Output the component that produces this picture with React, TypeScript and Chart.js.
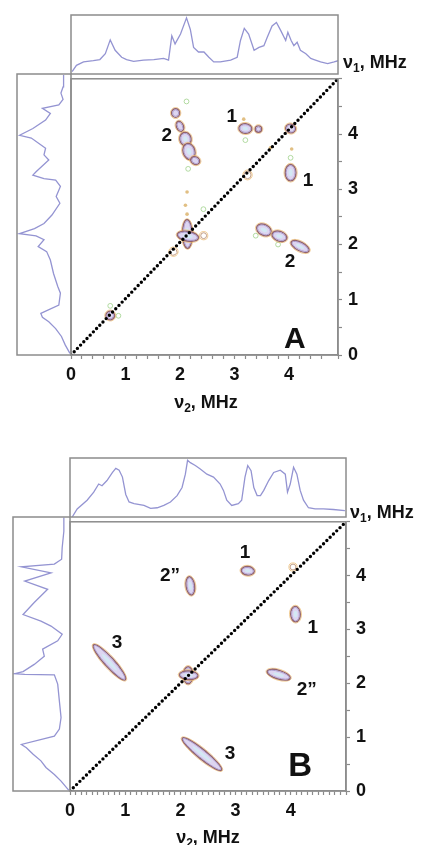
import React, { useEffect, useRef } from 'react';
import { Chart, registerables } from 'chart.js';

Chart.register(...registerables);

const FONT = '"Liberation Sans", Arial, Helvetica, sans-serif';
const TRACE = '#9494d2';
const FRAME = '#8c8c8c';

// ---------------- axis ticks / ranges ----------------
const xTickLabels = [0, 1, 2, 3, 4];
const yTickLabels = [0, 1, 2, 3, 4];
const xMaxA = 4.9;
const yMaxA = 5.0;
const xMaxB = 5.0;
const yMaxB = 5.0;
const xMinorA = 0.2;
const xMinorB = 0.1;
const yMinor = 0.5;

// ---------------- panel A projections ----------------
const topNuA = [0.02, 0.1, 0.23, 0.41, 0.53, 0.63, 0.72, 0.81, 0.93, 1.02, 1.15, 1.33, 1.52, 1.7, 1.79, 1.85, 1.91, 2.01, 2.12, 2.19, 2.25, 2.34, 2.44, 2.53, 2.62, 2.74, 2.93, 3.05, 3.11, 3.18, 3.26, 3.36, 3.45, 3.54, 3.6, 3.69, 3.77, 3.85, 3.94, 3.98, 4.04, 4.09, 4.15, 4.21, 4.31, 4.4, 4.46, 4.58, 4.71, 4.83, 4.9];
const topIntA = [0.04, 0.15, 0.21, 0.23, 0.25, 0.35, 0.59, 0.41, 0.29, 0.25, 0.22, 0.24, 0.25, 0.27, 0.24, 0.66, 0.52, 0.69, 0.97, 0.77, 0.46, 0.38, 0.38, 0.29, 0.21, 0.21, 0.24, 0.29, 0.58, 0.79, 0.69, 0.41, 0.46, 0.49, 0.63, 0.83, 0.89, 0.75, 0.58, 0.72, 0.58, 0.49, 0.55, 0.41, 0.35, 0.27, 0.25, 0.21, 0.18, 0.21, 0.23];

const leftNuA = [0.03, 0.18, 0.33, 0.47, 0.59, 0.67, 0.74, 0.89, 1.1, 1.22, 1.45, 1.69, 1.84, 1.93, 2.05, 2.12, 2.16, 2.25, 2.34, 2.49, 2.7, 2.82, 3.0, 3.11, 3.14, 3.2, 3.26, 3.47, 3.56, 3.68, 3.86, 3.91, 4.03, 4.18, 4.3, 4.39, 4.45, 4.55, 4.66, 4.77, 4.98];
const leftIntA = [0.02, 0.11, 0.18, 0.29, 0.42, 0.54, 0.57, 0.23, 0.2, 0.25, 0.33, 0.39, 0.46, 0.62, 0.51, 0.66, 0.97, 0.69, 0.51, 0.36, 0.21, 0.28, 0.2, 0.29, 0.51, 0.72, 0.66, 0.42, 0.51, 0.48, 0.75, 0.97, 0.72, 0.48, 0.39, 0.54, 0.23, 0.15, 0.19, 0.15, 0.14];

// ---------------- panel B projections ----------------
const topNuB = [0.04, 0.13, 0.31, 0.43, 0.52, 0.58, 0.67, 0.77, 0.83, 0.89, 0.95, 1.01, 1.07, 1.16, 1.34, 1.46, 1.58, 1.7, 1.82, 1.94, 2.03, 2.09, 2.13, 2.18, 2.27, 2.36, 2.48, 2.6, 2.72, 2.78, 2.84, 2.93, 3.05, 3.11, 3.17, 3.22, 3.28, 3.33, 3.39, 3.45, 3.51, 3.6, 3.69, 3.81, 3.9, 3.94, 3.99, 4.05, 4.11, 4.17, 4.23, 4.32, 4.44, 4.59, 4.77, 4.98];
const topIntB = [0.0, 0.14, 0.29, 0.43, 0.57, 0.54, 0.63, 0.77, 0.84, 0.81, 0.69, 0.39, 0.26, 0.23, 0.2, 0.15, 0.16, 0.2, 0.26, 0.37, 0.51, 0.74, 0.98, 0.94, 0.89, 0.83, 0.74, 0.69, 0.57, 0.46, 0.29, 0.2, 0.23, 0.29, 0.69, 0.89, 0.8, 0.51, 0.37, 0.37, 0.46, 0.63, 0.77, 0.81, 0.74, 0.43, 0.57, 0.86, 0.74, 0.46, 0.29, 0.16, 0.14, 0.14, 0.13, 0.11];

const leftNuB = [0.01, 0.18, 0.3, 0.43, 0.55, 0.67, 0.79, 0.85, 1.0, 1.13, 1.34, 1.64, 1.95, 2.12, 2.13, 2.14, 2.18, 2.31, 2.46, 2.59, 2.74, 2.86, 3.01, 3.1, 3.22, 3.44, 3.68, 3.83, 3.98, 4.09, 4.14, 4.23, 4.44, 4.74, 4.99];
const leftIntB = [0.02, 0.16, 0.28, 0.43, 0.52, 0.66, 0.78, 0.87, 0.28, 0.19, 0.16, 0.19, 0.22, 0.28, 0.81, 0.99, 0.84, 0.64, 0.46, 0.49, 0.22, 0.14, 0.34, 0.52, 0.84, 0.64, 0.4, 0.81, 0.34, 0.87, 0.28, 0.15, 0.14, 0.11, 0.11];

// ---------------- cross peaks: [x1, y1, x2, y2, halfWidth, level] (MHz) ----------------
type Peak = [number, number, number, number, number, number];
const peaksA: Peak[] = [
  [1.92, 4.44, 1.92, 4.32, 0.055, 2],
  [1.97, 4.21, 2.03, 4.07, 0.045, 2],
  [2.08, 4.01, 2.12, 3.81, 0.085, 2],
  [2.13, 3.81, 2.2, 3.56, 0.09, 2],
  [2.22, 3.55, 2.34, 3.49, 0.05, 2],
  [3.1, 4.11, 3.3, 4.09, 0.07, 2],
  [3.41, 4.09, 3.47, 4.09, 0.04, 2],
  [3.96, 4.12, 4.1, 4.08, 0.06, 2],
  [4.03, 3.43, 4.03, 3.17, 0.08, 2],
  [3.24, 3.31, 3.24, 3.21, 0.045, 1],
  [2.13, 2.43, 2.14, 1.95, 0.07, 2],
  [1.97, 2.18, 2.32, 2.12, 0.07, 2],
  [2.41, 2.16, 2.46, 2.16, 0.035, 1],
  [1.86, 1.9, 1.9, 1.84, 0.045, 1],
  [3.43, 2.32, 3.65, 2.21, 0.08, 2],
  [3.71, 2.19, 3.94, 2.11, 0.07, 2],
  [4.06, 2.04, 4.35, 1.89, 0.06, 2],
  [0.69, 0.75, 0.75, 0.68, 0.06, 2],
];
const peaksB: Peak[] = [
  [3.12, 4.1, 3.32, 4.08, 0.06, 2],
  [2.16, 3.96, 2.2, 3.66, 0.06, 2],
  [4.01, 4.16, 4.07, 4.16, 0.035, 1],
  [4.08, 3.41, 4.09, 3.16, 0.07, 2],
  [0.44, 2.7, 0.99, 2.08, 0.07, 2],
  [2.14, 2.29, 2.14, 2.01, 0.07, 2],
  [2.0, 2.16, 2.3, 2.14, 0.06, 2],
  [3.59, 2.22, 3.97, 2.1, 0.06, 2],
  [2.05, 0.97, 2.73, 0.4, 0.065, 2],
];

// weak features [x, y]
const greenA = [[2.12, 4.59], [3.2, 3.89], [4.03, 3.57], [2.15, 3.37], [2.43, 2.64], [3.39, 2.16], [3.8, 2.0], [0.72, 0.89], [0.87, 0.71]];
const orangeA = [[3.17, 4.27], [4.05, 3.73], [3.66, 3.75], [2.1, 2.71], [2.13, 2.55], [2.13, 2.95]];
const greenB: number[][] = [];
const orangeB: number[][] = [];

// annotations [text, x, y]
type Note = [string, number, number];
const notesA: Note[] = [['1', 2.95, 4.31], ['2', 1.76, 3.97], ['1', 4.35, 3.15], ['2', 4.02, 1.69]];
const notesB: Note[] = [['1', 3.17, 4.43], ['2\u201D', 1.81, 4.0], ['1', 4.4, 3.03], ['3', 0.85, 2.76], ['2\u201D', 4.29, 1.88], ['3', 2.9, 0.69]];
const letterA: Note = ['A', 4.11, 0.27];
const letterB: Note = ['B', 4.17, 0.44];

// ---------------- plugins ----------------
const framePlugin = {
  id: 'frame',
  afterDraw(chart: any) {
    const { ctx, chartArea: a } = chart;
    ctx.save();
    ctx.strokeStyle = FRAME;
    ctx.lineWidth = 1.5;
    ctx.strokeRect(a.left, a.top, a.right - a.left, a.bottom - a.top);
    ctx.restore();
  },
};

function ellipse(ctx: CanvasRenderingContext2D, cx: number, cy: number, a: number, b: number, ang: number) {
  ctx.beginPath();
  ctx.ellipse(cx, cy, Math.max(a, 0.5), Math.max(b, 0.5), ang, 0, Math.PI * 2);
}

function contourPlugin(peaks: Peak[], greens: number[][], oranges: number[][], notes: Note[], letter: Note, letterSize: number) {
  return {
    id: 'contours',
    beforeDatasetsDraw(chart: any) {
      const { ctx, scales } = chart;
      const xs = scales.x;
      const ys = scales.y;
      const unit = (Math.abs(xs.getPixelForValue(1) - xs.getPixelForValue(0)) + Math.abs(ys.getPixelForValue(1) - ys.getPixelForValue(0))) / 2;
      ctx.save();
      ctx.beginPath();
      ctx.rect(chart.chartArea.left, chart.chartArea.top, chart.chartArea.right - chart.chartArea.left, chart.chartArea.bottom - chart.chartArea.top);
      ctx.clip();
      for (const g of greens) {
        ctx.beginPath();
        ctx.arc(xs.getPixelForValue(g[0]), ys.getPixelForValue(g[1]), 2.4, 0, Math.PI * 2);
        ctx.strokeStyle = 'rgba(160,210,140,0.8)';
        ctx.lineWidth = 1;
        ctx.stroke();
      }
      for (const o of oranges) {
        ctx.beginPath();
        ctx.arc(xs.getPixelForValue(o[0]), ys.getPixelForValue(o[1]), 1.8, 0, Math.PI * 2);
        ctx.fillStyle = 'rgba(215,170,90,0.75)';
        ctx.fill();
      }
      for (const p of peaks) {
        const [x1, y1, x2, y2, hw, level] = p;
        const p1x = xs.getPixelForValue(x1);
        const p1y = ys.getPixelForValue(y1);
        const p2x = xs.getPixelForValue(x2);
        const p2y = ys.getPixelForValue(y2);
        const cx = (p1x + p2x) / 2;
        const cy = (p1y + p2y) / 2;
        const len = Math.hypot(p2x - p1x, p2y - p1y) / 2;
        const ang = Math.atan2(p2y - p1y, p2x - p1x);
        const b = hw * unit;
        const a = Math.max(len, b);
        // outer faint orange contour
        ellipse(ctx, cx, cy, a + 2.2, b + 2.2, ang);
        ctx.strokeStyle = 'rgba(235,185,110,0.75)';
        ctx.lineWidth = 1;
        ctx.stroke();
        // brown contour
        ellipse(ctx, cx, cy, a + 1, b + 1, ang);
        ctx.strokeStyle = level > 1 ? '#93636a' : 'rgba(175,130,100,0.75)';
        ctx.lineWidth = level > 1 ? 1.4 : 1;
        ctx.stroke();
        if (level > 1) {
          ellipse(ctx, cx, cy, a, b, ang);
          ctx.fillStyle = '#ddd5f1';
          ctx.fill();
          ctx.strokeStyle = '#a394cc';
          ctx.lineWidth = 0.9;
          ctx.stroke();
          if (a > 4 && b > 3) {
            ellipse(ctx, cx, cy, a * 0.5, b * 0.45, ang);
            ctx.fillStyle = '#d3e9f4';
            ctx.fill();
          }
        }
      }
      ctx.restore();
    },
    afterDatasetsDraw(chart: any) {
      const { ctx, scales } = chart;
      const xs = scales.x;
      const ys = scales.y;
      ctx.save();
      ctx.fillStyle = '#111';
      ctx.textAlign = 'center';
      ctx.textBaseline = 'middle';
      ctx.font = `bold 19px ${FONT}`;
      for (const n of notes) {
        ctx.fillText(n[0], xs.getPixelForValue(n[1]), ys.getPixelForValue(n[2]));
      }
      ctx.font = `bold ${letterSize}px ${FONT}`;
      ctx.fillText(letter[0], xs.getPixelForValue(letter[1]), ys.getPixelForValue(letter[2]));
      ctx.restore();
    },
  };
}

const tickFont = { family: FONT, size: 18, weight: 'bold' as const };

function tickLabel(list: number[]) {
  return (v: any) => {
    const r = Math.round(Number(v) * 1000) / 1000;
    return list.includes(r) ? String(r) : '';
  };
}

function mainConfig(xMax: number, yMax: number, xMinor: number, peaks: Peak[], greens: number[][], oranges: number[][], notes: Note[], letter: Note, letterSize: number) {
  return {
    type: 'scatter',
    data: {
      datasets: [
        {
          data: [{ x: 0, y: 0 }, { x: xMax, y: yMax }],
          showLine: true,
          borderColor: '#000',
          borderWidth: 3.4,
          borderDash: [0, 4.6],
          borderCapStyle: 'round',
          pointRadius: 0,
        },
      ],
    },
    options: {
      animation: false,
      responsive: false,
      devicePixelRatio: 1,
      layout: { padding: { left: 20, top: 12, right: 0, bottom: 0 } },
      plugins: { legend: { display: false }, tooltip: { enabled: false } },
      scales: {
        x: {
          type: 'linear',
          min: 0,
          max: xMax,
          afterFit: (s: any) => { s.height = 35; },
          ticks: { stepSize: xMinor, autoSkip: false, maxRotation: 0, padding: 5, color: '#111', font: tickFont, callback: tickLabel(xTickLabels) },
          grid: { drawOnChartArea: false, drawTicks: true, tickLength: 4, tickColor: '#8a8a8a', tickWidth: 1.2 },
          border: { display: true, color: FRAME, width: 1.5 },
        },
        y: {
          type: 'linear',
          position: 'right',
          min: 0,
          max: yMax,
          afterFit: (s: any) => { s.width = 45; },
          ticks: { stepSize: yMinor, autoSkip: false, padding: 6, color: '#111', font: tickFont, callback: tickLabel(yTickLabels) },
          grid: { drawOnChartArea: false, drawTicks: true, tickLength: 4, tickColor: '#8a8a8a', tickWidth: 1.2 },
          border: { display: true, color: FRAME, width: 1.5 },
        },
      },
    },
    plugins: [contourPlugin(peaks, greens, oranges, notes, letter, letterSize), framePlugin],
  };
}

function topConfig(nu: number[], inten: number[], xMax: number) {
  return {
    type: 'scatter',
    data: {
      datasets: [{ data: nu.map((v, i) => ({ x: v, y: inten[i] })), showLine: true, borderColor: TRACE, borderWidth: 1.3, pointRadius: 0 }],
    },
    options: {
      animation: false,
      responsive: false,
      devicePixelRatio: 1,
      layout: { padding: 2 },
      plugins: { legend: { display: false }, tooltip: { enabled: false } },
      scales: {
        x: { type: 'linear', display: false, min: 0, max: xMax },
        y: { type: 'linear', display: false, min: 0, max: 1.02 },
      },
    },
    plugins: [framePlugin],
  };
}

function leftConfig(nu: number[], inten: number[], yMax: number) {
  return {
    type: 'scatter',
    data: {
      datasets: [{ data: nu.map((v, i) => ({ x: inten[i], y: v })), showLine: true, borderColor: TRACE, borderWidth: 1.3, pointRadius: 0 }],
    },
    options: {
      animation: false,
      responsive: false,
      devicePixelRatio: 1,
      layout: { padding: 2 },
      plugins: { legend: { display: false }, tooltip: { enabled: false } },
      scales: {
        x: { type: 'linear', display: false, min: 0, max: 1.02, reverse: true },
        y: { type: 'linear', display: false, min: 0, max: yMax },
      },
    },
    plugins: [framePlugin],
  };
}

function ChartCanvas({ left, top, width, height, build }: { left: number; top: number; width: number; height: number; build: () => any }) {
  const ref = useRef<HTMLCanvasElement | null>(null);
  useEffect(() => {
    if (!ref.current) return;
    const chart = new Chart(ref.current, build());
    return () => chart.destroy();
  }, []);
  return <canvas ref={ref} width={width} height={height} style={{ position: 'absolute', left, top, width, height }} />;
}

function Nu({ n, left, top, center }: { n: string; left: number; top: number; center?: boolean }) {
  return (
    <div
      style={{
        position: 'absolute',
        left,
        top,
        width: center ? 110 : undefined,
        textAlign: center ? 'center' : 'left',
        font: `bold 18px ${FONT}`,
        color: '#111',
        whiteSpace: 'nowrap',
        lineHeight: '22px',
      }}
    >
      ν<span style={{ fontSize: 12, position: 'relative', top: 4 }}>{n}</span>, MHz
    </div>
  );
}

export default function App() {
  return (
    <div style={{ position: 'absolute', left: 0, top: 0, width: 426, height: 845, background: '#fff', overflow: 'hidden' }}>
      {/* Panel A */}
      <ChartCanvas left={69} top={13} width={271} height={63} build={() => topConfig(topNuA, topIntA, xMaxA)} />
      <ChartCanvas left={15} top={72} width={58} height={285} build={() => leftConfig(leftNuA, leftIntA, yMaxA)} />
      <ChartCanvas left={51} top={62} width={332} height={328} build={() => mainConfig(xMaxA, yMaxA, xMinorA, peaksA, greenA, orangeA, notesA, letterA, 30)} />
      <Nu n="1" left={343} top={51} />
      <Nu n="2" left={151} top={391} center />

      {/* Panel B */}
      <ChartCanvas left={68} top={456} width={280} height={63} build={() => topConfig(topNuB, topIntB, xMaxB)} />
      <ChartCanvas left={11} top={515} width={61} height={278} build={() => leftConfig(leftNuB, leftIntB, yMaxB)} />
      <ChartCanvas left={50} top={505} width={341} height={321} build={() => mainConfig(xMaxB, yMaxB, xMinorB, peaksB, greenB, orangeB, notesB, letterB, 33)} />
      <Nu n="1" left={350} top={501} />
      <Nu n="2" left={153} top={826} center />
    </div>
  );
}
